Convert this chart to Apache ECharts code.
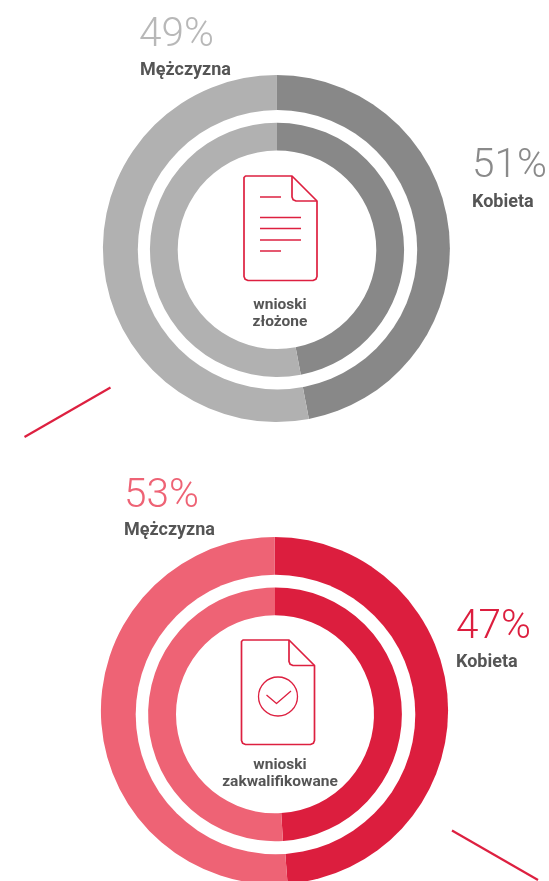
<!DOCTYPE html>
<html><head><meta charset="utf-8">
<style>html,body{margin:0;padding:0;background:#fff;overflow:hidden}#c{width:549px;height:881px}</style>
<script src="https://cdn.jsdelivr.net/npm/echarts@6/dist/echarts.min.js"></script>
</head><body><div id="c"></div>
<script>
const categories = ['Kobieta', 'Mężczyzna'];
// Arc shares as drawn in the picture
const submittedOuter = [47, 53];
const submittedInner = [47, 53];
const qualifiedOuter = [48.8, 51.2];
const qualifiedInner = [49, 51];
// Printed labels
const submittedLabels = ['51%', '49%'];
const qualifiedLabels = ['47%', '53%'];
const submittedCaption = 'wnioski\nzłożone';
const qualifiedCaption = 'wnioski\nzakwalifikowane';

const GREY = ['#888888', '#b1b1b1'];
const RED = ['#dc1e3e', '#ee6375'];
const INK = '#555555';
const ICON = '#dd2040';

function ring(vals, colors, cx, cy, r0, r1) {
  return {
    type: 'pie', silent: true, animation: false, startAngle: 90, clockwise: true,
    center: [cx, cy], radius: [r0, r1], label: {show: false}, labelLine: {show: false},
    itemStyle: {borderWidth: 0},
    data: vals.map((v, i) => ({name: categories[i] || '', value: v, itemStyle: {color: colors[i]}}))
  };
}
// The outer band's hole sits slightly off the band's centre in the reference
const hole = (cx, cy, r) => ring([1], ['#ffffff'], cx, cy, 0, r);
function txt(x, y, s, size, weight, color, align) {
  return {type: 'text', silent: true, z: 10, x, y, style: {
    text: s, fontFamily: 'Roboto', fontSize: size, fontWeight: weight, fill: color,
    align: align || 'left', verticalAlign: 'middle', lineHeight: 17}};
}
function stroke(shapeType, shape, w) {
  return {type: shapeType, silent: true, z: 10, shape, style: {stroke: ICON, lineWidth: w || 1.5, fill: 'none', lineCap: 'butt', lineJoin: 'round'}};
}
// Document outline: page with rounded bottom corners and a folded top-right corner
function docIcon(l, t, r, b, fx, fy) {
  const outline = [[l + 1.5, t], [fx, t], [r, fy], [r, b - 4], [r - 1.2, b - 1.2], [r - 4, b],
    [l + 4, b], [l + 1.2, b - 1.2], [l, b - 4], [l, t + 1.5]];
  const fold = [[fx, t], [fx, fy - 4], [fx + 1.2, fy - 1.2], [fx + 4, fy], [r, fy]];
  return [stroke('polygon', {points: outline}, 1.7), stroke('polyline', {points: fold}, 1.7)];
}
const rule = (x1, x2, y) => stroke('line', {x1, y1: y, x2, y2: y}, 1.5);

const graphics = [
  txt(139, 36, submittedLabels[1], 40.5, 300, '#b8b8b8'),
  txt(140, 70.5, categories[1], 18, 700, INK),
  txt(472, 167, submittedLabels[0], 40.5, 300, '#8a8a8a'),
  txt(472, 202.5, categories[0], 18, 700, INK),
  txt(124, 496.5, qualifiedLabels[1], 40.5, 300, '#ee6375'),
  txt(124, 530.5, categories[1], 18, 700, INK),
  txt(456, 628, qualifiedLabels[0], 40.5, 300, '#dc1e3e'),
  txt(456, 662.5, categories[0], 18, 700, INK),
  txt(280, 314, submittedCaption, 15.5, 700, INK, 'center'),
  txt(280, 774, qualifiedCaption, 15.5, 700, INK, 'center'),
  stroke('line', {x1: 24.5, y1: 437, x2: 110.5, y2: 387.5}, 2.2),
  stroke('line', {x1: 452, y1: 830.5, x2: 538, y2: 880}, 2.2),
  ...docIcon(244, 176, 317, 280.5, 292, 201),
  rule(260, 281, 197), rule(260, 301, 217.5), rule(260, 301, 228.5), rule(260, 301, 240), rule(260, 281, 251),
  ...docIcon(241.5, 640, 314.5, 744.5, 289, 665.5),
  stroke('circle', {cx: 278, cy: 696.5, r: 19.5}, 1.3),
  stroke('polyline', {points: [[266.5, 695], [276.5, 703.5], [291, 691]]}, 1.3)
];

const chart = echarts.init(document.getElementById('c'), null, {renderer: 'canvas'});
chart.setOption({
  animation: false,
  series: [
    ring(submittedOuter, GREY, 276.4, 248.5, 0, 173.5),
    hole(277.5, 249.7, 139.7),
    ring(submittedInner, GREY, 277, 249.8, 99.3, 127.1),
    ring(qualifiedOuter, RED, 274.5, 710.6, 0, 173.6),
    hole(275.5, 714.5, 139.8),
    ring(qualifiedInner, RED, 275, 714.3, 99, 126.9)
  ],
  graphic: {elements: graphics}
});
</script></body></html>
